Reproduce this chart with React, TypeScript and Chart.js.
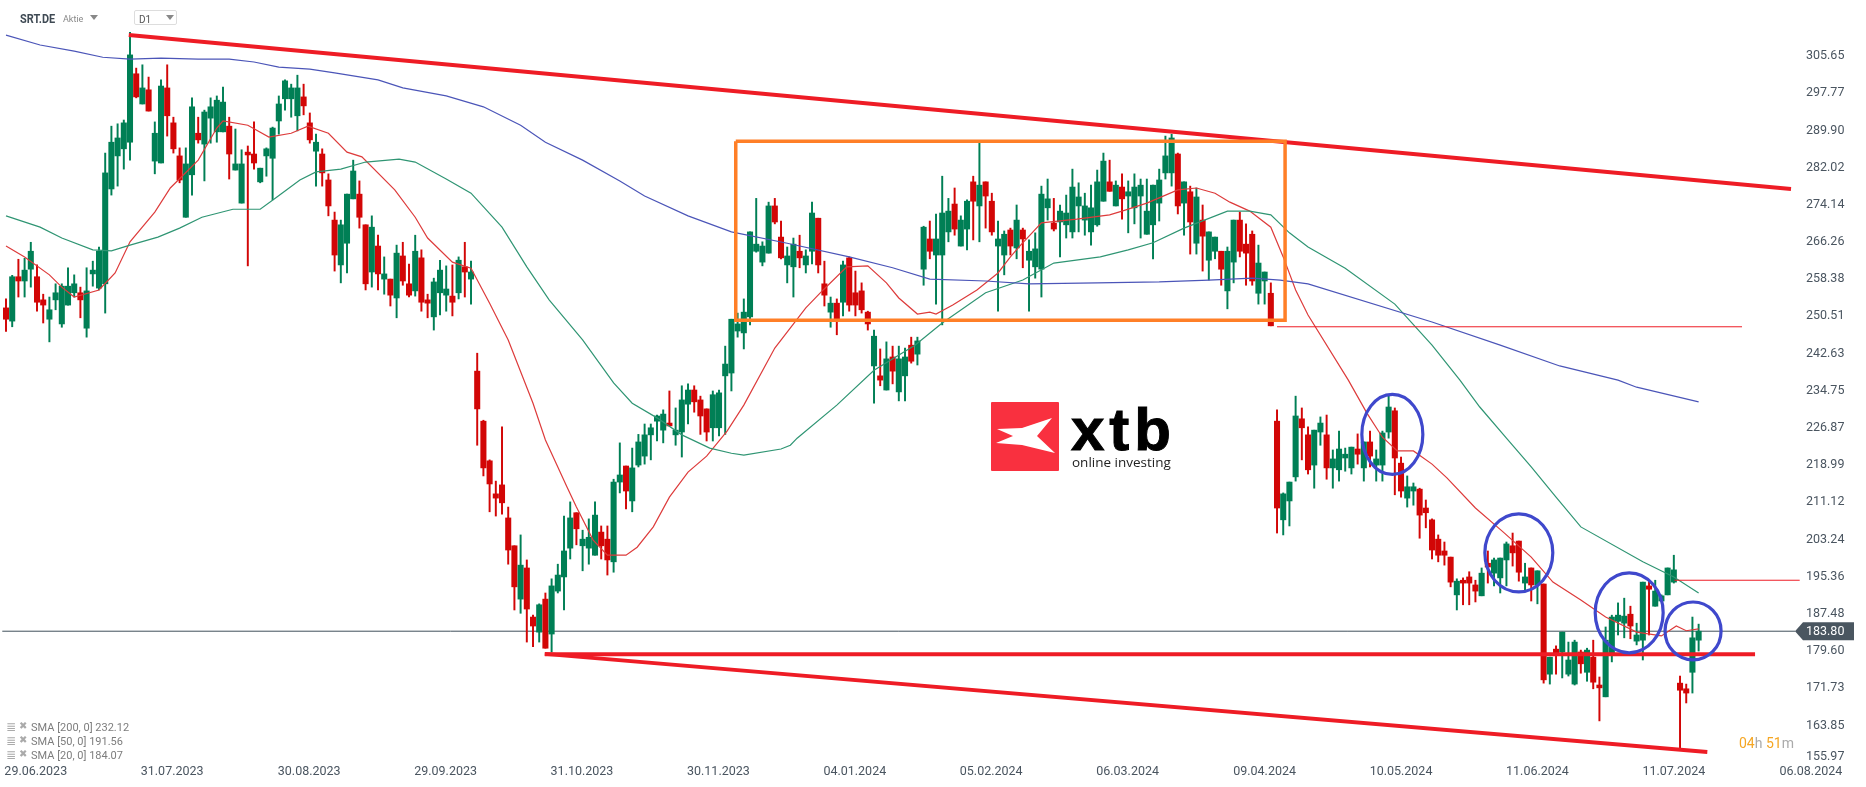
import { useEffect, useRef } from "react"
import { Chart, registerables } from "chart.js"

Chart.register(...registerables)

const opens = [
  252.3,249.5,258.9,258.0,260.5,258.9,254.0,249.9,254.0,248.9,
  252.9,255.5,255.5,248.0,259.5,256.5,257.4,277.5,284.5,286.0,
  287.4,301.9,295.5,298.5,283.4,283.0,298.9,291.5,284.5,271.5,
  280.5,289.3,287.0,292.5,289.6,289.6,290.8,281.5,274.5,285.3,
  284.9,279.0,284.5,284.0,291.9,296.6,296.6,293.0,297.0,291.5,
  285.5,284.9,279.4,270.9,261.4,266.0,275.4,276.4,269.9,259.9,
  265.4,258.4,258.4,254.4,263.3,257.4,255.9,262.9,254.0,250.4,
  255.5,255.0,254.8,255.5,261.0,258.4,238.9,228.3,219.9,212.9,
  214.8,207.8,201.9,190.6,197.2,186.8,183.6,190.6,183.2,192.3,
  195.3,201.4,208.9,201.9,201.4,199.9,204.8,203.3,198.5,215.4,
  218.8,211.4,219.0,220.9,225.4,228.3,226.4,227.9,225.4,226.0,
  231.9,234.9,232.8,230.9,226.9,226.9,237.9,238.5,247.4,247.0,
  250.4,264.3,262.0,263.9,273.9,267.3,261.4,261.0,264.3,261.4,
  264.3,271.3,257.4,251.4,253.3,253.5,262.9,255.5,255.9,251.4,
  240.0,237.9,234.9,241.9,234.5,237.9,244.4,242.5,260.5,266.9,
  263.5,263.5,268.4,274.3,265.4,269.0,279.0,273.9,279.0,274.9,
  265.4,263.5,268.8,265.0,268.8,262.4,261.0,260.5,273.5,270.3,
  270.5,269.9,268.4,273.9,270.9,268.4,269.9,274.9,279.0,273.9,
  277.9,276.0,273.5,276.0,267.9,269.9,274.5,280.9,280.9,284.9,
  274.5,276.9,266.0,270.9,262.4,264.3,264.3,255.9,262.0,270.9,
  265.8,267.9,255.4,258.0,255.4,228.3,207.4,211.4,216.5,228.8,
  225.4,219.0,226.0,225.4,218.4,218.0,220.5,218.4,222.4,218.4,
  223.9,219.0,219.0,226.0,230.5,219.4,212.0,213.5,213.9,209.9,
  207.4,203.3,200.8,199.5,191.5,194.6,195.3,193.6,191.3,198.2,
  196.1,195.1,198.9,201.9,202.9,194.0,197.2,193.6,193.8,174.7,
  180.0,179.4,174.7,172.6,179.4,175.1,178.3,172.4,169.9,179.2,
  185.9,185.5,187.4,181.7,181.9,193.4,189.1,190.2,191.5,194.2,
  172.8,171.6,175.1,181.9,
]
const closes = [
  249.9,258.9,258.0,260.3,264.3,253.5,252.9,251.9,255.5,256.9,
  256.9,257.4,254.0,255.9,260.3,264.3,280.9,287.4,288.3,291.5,
  305.9,297.0,298.9,294.0,289.3,299.3,293.0,286.0,279.4,282.8,
  294.9,287.9,293.8,294.9,296.3,295.9,284.9,282.8,282.8,284.7,
  283.0,281.9,286.0,290.4,295.5,300.4,298.9,298.9,295.1,287.9,
  287.4,280.9,273.9,263.5,269.9,276.4,281.3,271.5,257.4,269.4,
  259.5,259.5,255.0,263.9,258.0,255.0,264.3,253.5,253.3,257.8,
  260.3,256.3,253.5,262.4,259.9,259.9,230.9,218.4,215.0,212.0,
  211.0,201.0,193.2,197.8,188.5,184.9,189.4,180.2,193.4,195.7,
  200.8,207.8,205.5,203.3,203.7,208.4,201.9,198.9,215.4,216.9,
  213.5,218.4,223.9,225.4,226.9,229.4,229.8,227.3,226.4,232.8,
  234.9,232.4,229.4,226.0,233.9,234.3,240.4,249.9,248.9,251.4,
  268.4,265.8,265.4,273.9,270.5,262.9,263.3,265.8,262.9,263.3,
  272.4,261.4,255.0,253.3,249.7,261.4,252.9,252.9,251.9,248.9,
  246.3,237.0,241.5,238.9,241.5,241.9,241.0,245.3,269.4,264.3,
  266.9,272.4,272.8,269.0,270.9,274.9,274.9,278.3,276.0,268.4,
  266.9,267.9,265.4,270.9,266.9,264.3,264.8,276.4,275.4,269.0,
  272.8,272.4,277.9,275.8,273.9,273.5,279.0,283.4,277.0,278.3,
  275.4,276.9,277.9,278.3,272.8,278.3,279.4,284.5,288.3,273.9,
  279.0,270.5,275.8,267.5,268.4,267.3,260.5,264.3,270.9,264.3,
  263.9,258.0,261.8,259.9,248.5,209.9,212.9,215.4,229.4,226.9,
  218.0,226.4,227.9,218.4,220.3,222.4,221.3,222.8,221.3,223.9,
  220.9,220.3,225.8,231.3,220.5,213.5,214.4,214.4,208.4,208.9,
  201.0,199.9,199.9,194.2,194.4,194.0,194.0,192.3,196.1,197.4,
  198.9,199.3,202.3,200.4,196.3,195.3,193.6,196.6,173.5,178.3,
  179.2,183.6,177.7,181.5,176.9,179.8,173.0,171.8,181.9,186.8,
  187.2,187.0,184.9,183.0,194.2,192.7,192.3,191.3,197.2,196.8,
  171.3,170.7,182.4,183.8,
]
const highs = [
  254.2,259.2,262.6,262.8,266.2,261.4,255.2,254.6,257.4,257.4,
  260.8,259.3,256.7,260.8,262.2,265.2,285.1,290.8,291.3,292.1,
  310.7,303.1,303.8,301.2,291.7,300.6,303.8,292.7,286.2,286.2,
  296.8,292.7,294.2,296.8,297.2,299.1,292.7,290.2,285.8,286.6,
  291.7,281.9,286.2,290.6,297.2,300.6,299.7,301.6,299.7,293.6,
  289.1,286.0,280.7,272.6,270.9,276.4,283.6,279.2,269.9,271.8,
  267.7,263.1,258.4,265.6,266.2,261.6,267.7,264.6,255.2,258.6,
  262.4,261.2,261.4,263.1,266.2,262.2,242.7,228.5,220.1,215.6,
  227.1,210.1,201.9,204.2,198.9,187.2,189.6,191.9,194.9,198.0,
  208.2,211.2,208.9,205.2,207.6,211.2,206.1,206.1,216.0,223.7,
  218.8,222.6,225.5,227.7,227.7,229.6,230.7,234.7,231.1,235.8,
  236.2,235.8,233.6,230.9,234.7,234.9,244.2,249.9,251.2,254.2,
  268.4,275.5,266.3,274.7,275.5,270.7,265.2,267.1,267.7,264.6,
  274.7,271.3,262.2,254.6,254.2,262.2,263.1,260.1,257.6,251.6,
  247.6,243.6,245.1,244.2,244.2,243.8,246.1,246.1,269.6,270.7,
  272.2,280.2,275.5,277.7,271.8,275.2,280.2,287.2,279.0,276.6,
  270.7,268.6,269.2,274.1,269.2,266.7,268.2,278.1,279.6,275.5,
  274.1,276.2,281.7,278.8,276.6,278.3,281.5,285.1,283.6,279.2,
  280.7,279.2,280.7,279.6,279.6,278.3,281.7,288.7,289.1,285.1,
  279.0,278.1,277.7,274.1,268.4,267.3,264.3,265.2,270.9,272.6,
  270.1,268.6,265.6,259.9,257.6,230.7,213.1,215.4,233.6,231.1,
  227.1,226.4,229.2,229.6,222.2,226.2,222.6,222.8,225.6,223.9,
  226.2,222.2,226.2,233.6,231.1,220.7,216.7,215.2,214.1,211.6,
  207.6,204.2,202.7,199.5,194.9,195.1,196.4,194.6,197.2,200.8,
  199.3,199.3,202.7,204.6,202.9,198.2,197.2,196.6,193.8,178.3,
  180.7,183.6,181.5,181.9,179.8,180.2,181.9,174.1,184.7,187.2,
  189.8,190.8,189.1,185.5,194.2,194.4,194.6,191.5,197.2,199.9,
  174.3,172.6,186.8,185.3,
]
const lows = [
  247.3,248.3,254.6,254.6,256.7,251.6,249.1,245.1,251.9,248.2,
  252.9,254.6,250.2,246.1,256.9,256.1,251.2,276.2,278.1,281.7,
  283.6,296.8,295.5,294.0,280.7,283.0,288.7,285.1,278.8,271.5,
  276.2,287.2,279.2,287.2,287.4,289.6,279.6,281.5,274.5,261.2,
  281.7,278.8,280.2,275.2,289.1,294.2,292.7,289.8,293.2,287.2,
  278.1,278.1,271.8,260.1,257.6,259.7,275.4,269.2,256.1,256.7,
  256.1,255.2,252.7,250.2,257.1,254.6,254.8,251.6,250.2,247.6,
  250.8,251.6,250.6,254.2,254.6,253.1,223.2,216.7,209.1,208.2,
  208.6,198.0,188.3,187.6,181.5,180.5,181.5,180.2,179.4,191.9,
  188.3,199.1,202.1,196.6,198.0,199.9,199.1,195.7,196.3,213.1,
  209.7,209.1,218.6,219.2,220.1,224.1,223.7,227.3,223.2,220.7,
  227.7,230.2,225.5,224.1,224.1,225.2,225.5,234.7,246.1,243.6,
  248.7,264.1,261.2,263.9,270.1,262.7,257.6,254.6,260.8,259.7,
  261.6,259.7,252.7,248.2,246.6,250.6,251.6,250.6,251.2,247.6,
  232.1,235.8,234.9,236.2,232.6,232.6,240.6,240.2,257.1,262.7,
  253.1,248.7,266.3,267.7,265.4,264.6,266.7,266.3,269.2,267.7,
  251.6,259.3,263.5,262.7,260.8,251.6,258.6,254.6,270.9,268.6,
  263.1,267.1,267.1,268.4,267.7,265.6,269.6,274.9,277.0,273.9,
  271.1,268.2,270.1,267.1,267.9,262.7,270.7,279.6,278.1,272.2,
  267.7,263.7,263.7,260.1,258.2,262.7,257.1,252.1,257.6,263.1,
  257.1,257.1,253.1,253.1,248.5,204.6,204.2,206.1,215.6,220.1,
  217.1,214.1,223.2,216.0,214.1,215.6,217.7,217.1,219.2,215.6,
  218.6,215.6,215.6,224.7,212.7,212.2,210.1,210.5,203.5,205.7,
  199.1,198.5,197.8,193.2,188.3,189.4,189.4,190.0,191.3,194.0,
  193.4,191.9,193.4,197.6,194.4,192.5,190.2,189.6,172.8,172.6,
  174.7,173.9,174.3,172.4,174.9,173.2,171.6,164.8,169.9,177.3,
  183.0,182.4,182.2,180.9,177.7,183.0,189.1,190.2,191.5,194.0,
  159.1,168.6,170.7,179.6,
]

// SMA lines as [bar, price]
const sma200 = [
  [0,310.1],[5.5,308.0],[11,306.7],[15.6,305.4],[20,305.0],[25,305.2],[31,305.0],[36,305.0],[40,304.4],[44,303.3],
  [49,302.9],[53,302.1],[60,300.6],[64,298.9],[71,297.2],[77,294.9],[83,291.0],[87,287.4],[93,283.6],[99,279.2],
  [103,276.0],[110,271.8],[117,268.4],[126,266.0],[136,263.1],[143,260.8],[149,258.4],[158,258.0],[165,257.4],[176,257.6],
  [186,257.8],[194,258.2],[201,258.6],[205.5,258.2],[210,257.4],[230,249.3],[241,244.4],[250.6,240.0],[260,237.0],[263,235.5],[273,232.4],
]
const sma50 = [
  [0,271.8],[5.5,269.4],[9,267.1],[14,264.6],[17,264.4],[20,265.6],[24.5,267.3],[28,269.2],[31.6,271.5],[36.6,273.2],
  [41,273.2],[43.7,275.8],[47.4,279.4],[50,281.1],[54,281.7],[58,283.2],[63.4,283.8],[66,283.2],[71,279.6],[75,276.6],
  [80,269.4],[84,261.0],[87.6,254.0],[93,245.5],[98,236.4],[101,232.1],[105,229.0],[109,225.4],[113.5,222.6],[117,221.5],
  [119,221.1],[125,222.4],[126.5,223.2],[127.6,224.7],[134,231.7],[140,239.1],[146.6,244.4],[151,249.1],[158,255.5],[164,258.2],
  [169,261.8],[176.5,263.1],[181,264.6],[185,266.1],[190,269.2],[197,272.8],[200.6,272.8],[204,272.0],[207,268.2],[210,265.2],
  [216,260.7],[224,253.1],[230,244.4],[234.5,237.0],[237.7,231.3],[242,224.7],[246,218.6],[250,212.2],[254,205.9],[264,198.5],[269,195.3],[273,191.9],
]
const sma20 = [
  [0,265.4],[3,263.1],[7,259.3],[9,256.7],[11,254.6],[15,256.1],[17.6,259.7],[20,266.3],[24,272.6],[26.5,277.7],
  [31,283.6],[34,290.4],[35,291.9],[39,291.0],[42.4,288.5],[46,289.3],[48.7,290.8],[52,289.3],[55,285.3],[57.4,284.3],
  [62.7,277.3],[66,271.5],[68,267.1],[72,262.0],[75,260.7],[78,253.3],[81,245.5],[85,232.1],[87,224.3],[90.5,214.3],
  [92,210.1],[94.7,203.1],[97,199.9],[100,199.9],[101.8,201.6],[104.4,205.9],[107,212.2],[110,217.5],[113,220.9],[116.3,226.2],
  [119,231.7],[124,243.8],[129,252.3],[131.8,256.1],[135.6,261.0],[139,261.2],[142,257.6],[144,254.4],[147,251.0],[149,251.4],
  [150,251.0],[152.7,252.9],[156.6,256.1],[160,259.7],[162,263.1],[163.5,265.4],[167,270.3],[172.7,271.1],[178,272.0],[180,272.8],
  [184,274.5],[189,277.3],[192,277.7],[195,276.6],[197.4,274.7],[200.6,272.8],[204,269.4],[206,263.1],[208,256.1],[210,250.8],
  [216.5,237.0],[219.5,230.0],[222,224.9],[224.4,222.0],[227,222.0],[230,219.2],[232.4,216.3],[237,209.9],[241.5,204.8],[246,199.5],
  [249.5,194.2],[254,190.4],[258,186.8],[263,183.6],[267,182.8],[269.4,184.9],[271,183.9],[273,184.3],
]

// drawn trend lines and boxes, [bar, price]
const upperTrend = [[19.8,310.1],[287.9,277.5]]
const lowerTrend = [[86.9,179.0],[274.4,158.2]]
const supportLine = [[86.9,178.9],[282.1,178.9]]
const thinLevelA = [[205,248.3],[280,248.3]]
const thinLevelB = [[269.1,194.6],[289.3,194.6]]
const lastPriceLine = [[-0.6,183.8],[288.6,183.8]]
const rangeBox = [[117.7,287.6],[206.3,287.6],[206.3,249.7],[117.7,249.7],[117.7,287.6]]
// [bar, price, bar radius, price radius]
const circles = [
  [223.6,225.5,4.92,8.47],
  [244.0,200.4,5.48,8.26],
  [261.8,187.7,5.48,8.47],
  [272.1,183.85,4.52,6.14],
]

const yTickValues = [305.65,297.77,289.90,282.02,274.14,266.26,258.38,250.51,242.63,234.75,226.87,218.99,211.12,203.24,195.36,187.48,179.60,171.73,163.85,155.97]
const xTickValues = [4.8,26.8,48.9,70.9,92.9,114.9,136.9,158.9,180.9,203,225,247,269,291.1]
const xTickLabels = ["29.06.2023","31.07.2023","30.08.2023","29.09.2023","31.10.2023","30.11.2023","04.01.2024","05.02.2024","06.03.2024","09.04.2024","10.05.2024","11.06.2024","11.07.2024","06.08.2024"]
const legendRows = ["SMA [200, 0] 232.12","SMA [50, 0] 191.56","SMA [20, 0] 184.07"]
const lastPrice = 183.8

const UP = "#007f55"
const DOWN = "#d20606"
const pts = (list: number[][]) => list.map(([x, y]) => ({ x, y }))

const overlayPlugin = {
  id: "overlay",
  afterDatasetsDraw(chart: any) {
    const { ctx, scales } = chart
    ctx.save()
    ctx.strokeStyle = "#3f48cc"
    ctx.lineWidth = 3.2
    circles.forEach(([b, p, rb, rp]) => {
      const cx = scales.x.getPixelForValue(b)
      const cy = scales.y.getPixelForValue(p)
      const rx = scales.x.getPixelForValue(b + rb) - cx
      const ry = cy - scales.y.getPixelForValue(p + rp)
      ctx.beginPath()
      ctx.ellipse(cx, cy, rx, ry, 0, 0, Math.PI * 2)
      ctx.stroke()
    })
    ctx.restore()
  },
  afterDraw(chart: any) {
    const { ctx, scales } = chart
    const y = scales.y.getPixelForValue(lastPrice)
    ctx.save()
    ctx.fillStyle = "#4a5660"
    ctx.beginPath()
    ctx.moveTo(1795, y)
    ctx.lineTo(1803, y - 9)
    ctx.lineTo(1854, y - 9)
    ctx.lineTo(1854, y + 9)
    ctx.lineTo(1803, y + 9)
    ctx.closePath()
    ctx.fill()
    ctx.fillStyle = "#ffffff"
    ctx.font = "12.5px Roboto"
    ctx.textBaseline = "middle"
    ctx.fillText(lastPrice.toFixed(2), 1806, y + 0.5)
    ctx.restore()
  },
}

function Header() {
  return (
    <>
      <span style={{ position: "absolute", left: 20, top: 11, font: "bold 13px Roboto", color: "#3f4a54", transform: "scaleX(0.84)", transformOrigin: "left" }}>SRT.DE</span>
      <span style={{ position: "absolute", left: 63, top: 14, font: "9px Roboto", color: "#888" }}>Aktie</span>
      <div style={{ position: "absolute", left: 90, top: 15, width: 0, height: 0, borderLeft: "4px solid transparent", borderRight: "4px solid transparent", borderTop: "5px solid #888" }} />
      <div style={{ position: "absolute", left: 134, top: 10, width: 43, height: 15, border: "1px solid #ddd", borderRadius: 2, boxSizing: "border-box" }} />
      <span style={{ position: "absolute", left: 139, top: 14, font: "10px Roboto", color: "#555" }}>D1</span>
      <div style={{ position: "absolute", left: 166, top: 15, width: 0, height: 0, borderLeft: "4px solid transparent", borderRight: "4px solid transparent", borderTop: "5px solid #888" }} />
    </>
  )
}

function SmaLegend() {
  return (
    <>
      {legendRows.map((row, i) => (
        <div key={row} style={{ position: "absolute", left: 6, top: 721 + i * 14, font: "11px Roboto", color: "#7d7d7d", whiteSpace: "nowrap", lineHeight: "14px" }}>
          <span style={{ position: "absolute", left: 0, top: -1, font: "12px 'DejaVu Sans'", color: "#aaa" }}>≣</span>
          <span style={{ position: "absolute", left: 13, top: -1, font: "10px 'DejaVu Sans'", color: "#aaa" }}>✖</span>
          <span style={{ position: "absolute", left: 25, top: 0 }}>{row}</span>
        </div>
      ))}
    </>
  )
}

function Logo() {
  return (
    <>
      <svg style={{ position: "absolute", left: 991, top: 402 }} width={68} height={69}>
        <rect width={68} height={69} rx={1} fill="#f9303f" />
        <polygon points="6,27 31,26 61,16 46,34 64,51 31,43 5,41 22,34" fill="#ffffff" />
      </svg>
      <span style={{ position: "absolute", left: 1071, top: 395, font: "bold 60px 'Liberation Sans'", letterSpacing: 5, color: "#000", WebkitTextStroke: "1px #000" }}>xtb</span>
      <span style={{ position: "absolute", left: 1072, top: 453, font: "13.5px 'Open Sans'", color: "#222", whiteSpace: "nowrap" }}>online investing</span>
    </>
  )
}

function Countdown() {
  return (
    <span style={{ position: "absolute", left: 1739, top: 735, font: "14px Roboto", color: "#f5a623", whiteSpace: "nowrap" }}>
      04<span style={{ color: "#aaa" }}>h</span> 51<span style={{ color: "#aaa" }}>m</span>
    </span>
  )
}

export default function App() {
  const chartRef = useRef<HTMLCanvasElement>(null)
  const chartInstance = useRef<Chart | null>(null)

  useEffect(() => {
    if (!chartRef.current) return
    const ctx = chartRef.current.getContext("2d")
    if (!ctx) return

    const colors = closes.map((c, i) => (c >= opens[i] ? UP : DOWN))
    const line = (data: number[][], borderColor: string, borderWidth: number, order: number) => ({
      type: "line" as const,
      data: pts(data),
      borderColor,
      borderWidth,
      order,
      pointRadius: 0,
      tension: 0,
      fill: false,
    })

    chartInstance.current = new Chart(ctx, {
      type: "bar",
      data: {
        datasets: [
          line(lastPriceLine, "#3f4f5a", 1, 10),
          {
            data: highs.map((h, i) => ({ x: i, y: [lows[i], h] })),
            backgroundColor: colors,
            grouped: false,
            barPercentage: 1,
            categoryPercentage: 1,
            maxBarThickness: 1.3,
            order: 9,
          },
          {
            data: opens.map((o, i) => ({ x: i, y: [o, closes[i]] })),
            backgroundColor: colors,
            grouped: false,
            barPercentage: 1,
            categoryPercentage: 1,
            maxBarThickness: 5.4,
            order: 8,
          },
          line(sma200, "#4b55b8", 1.2, 6),
          line(sma50, "#2f9573", 1.2, 6),
          line(sma20, "#dd3b3b", 1.2, 6),
          line(thinLevelA, "#ee1c25", 1, 5),
          line(thinLevelB, "#ee1c25", 1, 5),
          line(upperTrend, "#ee1c25", 4, 4),
          line(lowerTrend, "#ee1c25", 4, 4),
          line(supportLine, "#ee1c25", 4, 4),
          line(rangeBox, "#ff7f27", 3.5, 3),
        ] as any,
      },
      options: {
        responsive: false,
        animation: false,
        devicePixelRatio: 1,
        events: [],
        layout: { padding: 0 },
        plugins: { legend: { display: false }, tooltip: { enabled: false } },
        scales: {
          x: {
            type: "linear",
            min: -0.968,
            max: 289.35,
            offset: false,
            grid: { display: false, drawTicks: false },
            border: { display: false },
            afterBuildTicks: (s: any) => {
              s.ticks = xTickValues.map((value) => ({ value }))
            },
            afterFit: (s: any) => {
              s.height = 24
              s.paddingLeft = 0
              s.paddingRight = 0
            },
            ticks: {
              autoSkip: false,
              maxRotation: 0,
              minRotation: 0,
              padding: 1,
              color: "#4a5560",
              font: { family: "Roboto", size: 12.5 },
              callback: (_v: any, i: number) => xTickLabels[i],
            },
          },
          y: {
            type: "linear",
            position: "right",
            min: 155.88,
            max: 317.53,
            grid: { display: false, drawTicks: false },
            border: { display: false },
            afterBuildTicks: (s: any) => {
              s.ticks = yTickValues.map((value) => ({ value }))
            },
            afterFit: (s: any) => {
              s.width = 66
              s.paddingTop = 0
              s.paddingBottom = 0
            },
            ticks: {
              autoSkip: false,
              padding: 6,
              color: "#4a5560",
              // the lowest label sits a little above its level, clear of the date row
              font: (c: any) => ({ family: "Roboto", size: 12.5, lineHeight: c.tick && c.tick.value === 155.97 ? 0.85 : 1.2 }),
              callback: (v: any) => (v === 155.97 ? [Number(v).toFixed(2), ""] : Number(v).toFixed(2)),
            },
          },
        },
      } as any,
      plugins: [overlayPlugin],
    })

    return () => {
      if (chartInstance.current) {
        chartInstance.current.destroy()
      }
    }
  }, [])

  return (
    <div style={{ position: "fixed", left: 0, top: 0, width: 1866, height: 787, background: "#fff", overflow: "hidden" }}>
      <canvas ref={chartRef} width={1866} height={787} style={{ position: "absolute", left: 0, top: 0 }} />
      <Header />
      <SmaLegend />
      <Logo />
      <Countdown />
    </div>
  )
}
